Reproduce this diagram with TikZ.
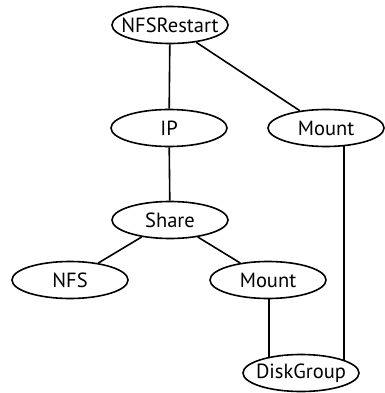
\documentclass[tikz,border=0pt]{standalone}
\usepackage{fontspec}
\setmainfont{PT Sans}
\usetikzlibrary{shapes.geometric}
% resource name, centred, allowed to run past the ellipse outline
\newcommand\resname[1]{\makebox[0pt]{#1}}
\begin{document}
\begin{tikzpicture}[x=1pt,y=-1pt,
  res/.style={draw,ellipse,line width=1.6pt,minimum width=116pt,minimum height=37pt,inner sep=0pt,font=\fontsize{20.5}{20.5}\selectfont},
  dep/.style={line width=1.6pt}]
\useasboundingbox (0,0) rectangle (384,393);
\node[res] (restart) at (170,25) {\resname{NFSRestart}};
\node[res] (ip) at (169,128) {\resname{IP}};
\node[res] (mnt1) at (326,128) {\resname{Mount}};
\node[res] (share) at (170,220) {\resname{Share}};
\node[res] (nfs) at (70,280) {\resname{NFS}};
\node[res] (mnt2) at (268,280) {\resname{Mount}};
\node[res] (dg) at (301,373) {\resname{DiskGroup}};
\draw[dep] (restart) -- (ip);
\draw[dep] (restart) -- (mnt1);
\draw[dep] (ip) -- (share);
\draw[dep] (share) -- (nfs);
\draw[dep] (share) -- (mnt2);
\draw[dep] (mnt2.south -| dg.153) -- (dg.153);
\draw[dep] (mnt1.-46) -- (mnt1.-46 |- dg.17) -- (dg.17);
\end{tikzpicture}
\end{document}
